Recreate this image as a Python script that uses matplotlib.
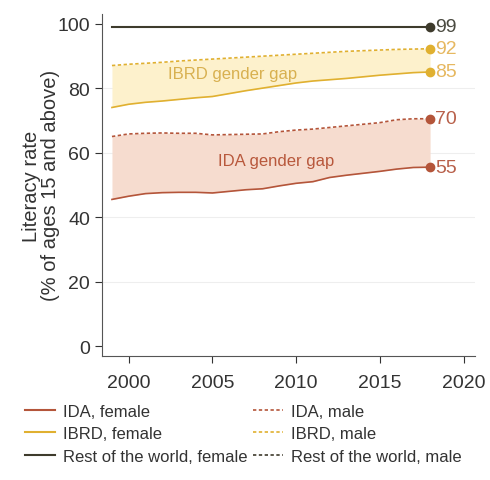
import numpy as np
import matplotlib.pyplot as plt
from matplotlib.lines import Line2D

plt.rcParams['font.family'] = ['Liberation Sans', 'DejaVu Sans']

# data ------------------------------------------------------------
years = [1999, 2000, 2001, 2002, 2003, 2004, 2005, 2006, 2007, 2008,
         2009, 2010, 2011, 2012, 2013, 2014, 2015, 2016, 2017, 2018]
ida_f = [45.5, 46.5, 47.3, 47.6, 47.7, 47.7, 47.5, 48.0, 48.5, 48.8,
         49.7, 50.5, 51.0, 52.3, 53.0, 53.6, 54.2, 54.9, 55.4, 55.5]
ida_m = [65.0, 65.8, 66.0, 66.1, 66.0, 66.0, 65.5, 65.6, 65.7, 65.8,
         66.5, 67.0, 67.3, 67.8, 68.3, 68.8, 69.3, 70.2, 70.5, 70.5]
ibrd_f = [74.0, 75.0, 75.6, 76.0, 76.5, 77.0, 77.4, 78.3, 79.2, 80.0,
          80.8, 81.6, 82.2, 82.6, 83.0, 83.5, 84.0, 84.4, 84.8, 85.0]
ibrd_m = [87.0, 87.4, 87.7, 88.0, 88.4, 88.7, 89.0, 89.3, 89.6, 89.9,
          90.2, 90.5, 90.8, 91.1, 91.4, 91.6, 91.8, 92.0, 92.1, 92.2]
row_f = [98.8] * 20
row_m = [99.0] * 20
end_labels = ['55', '70', '85', '92', '99']

c_ida = '#b4553a'
c_ibrd = '#e0b030'
c_row = '#3e3b2c'

fig = plt.figure(figsize=(4.9, 4.81), dpi=100)
ax = fig.add_axes([0.208, 0.258, 0.762, 0.711])

ax.fill_between(years, ida_f, ida_m, color='#f6dccf', lw=0)
ax.fill_between(years, ibrd_f, ibrd_m, color='#fdf1cc', lw=0)

ax.plot(years, ida_f, color=c_ida, lw=1.2)
ax.plot(years, ida_m, color=c_ida, lw=1.2, ls=(0, (2, 1.5)))
ax.plot(years, ibrd_f, color=c_ibrd, lw=1.2)
ax.plot(years, ibrd_m, color=c_ibrd, lw=1.2, ls=(0, (2, 1.5)))
ax.plot(years, row_f, color=c_row, lw=1.5)
ax.plot(years, row_m, color=c_row, lw=1.2, ls=(0, (2, 1.5)))

# end markers and labels
ends = [(ida_f[-1], c_ida, '#b8604a'), (ida_m[-1], c_ida, '#b8604a'),
        (ibrd_f[-1], c_ibrd, '#e6b860'), (ibrd_m[-1], c_ibrd, '#e6b860'),
        (row_m[-1], c_row, '#4a4a40')]
for (v, c, tc), lab in zip(ends, end_labels):
    ax.plot(years[-1], v, 'o', color=c, ms=6)
    ax.text(years[-1] + 0.3, v, lab, color=tc, fontsize=14, va='center', ha='left')

ax.text(2006.2, 84.5, 'IBRD gender gap', color='#d8b050', fontsize=12,
        ha='center', va='center')
ax.text(2008.8, 57.5, 'IDA gender gap', color='#b8583c', fontsize=12,
        ha='center', va='center')

ax.set_xlim(1998.4, 2020.7)
ax.set_ylim(-3, 103)
ax.set_xticks([2000, 2005, 2010, 2015, 2020])
ax.set_yticks([0, 20, 40, 60, 80, 100])
ax.tick_params(labelsize=14, colors='#333333', length=5)
ax.tick_params(axis='x', pad=8)
for y in [20, 40, 60, 80]:
    ax.axhline(y, color='#eeeeee', lw=0.8, zorder=0)
for s in ['top', 'right']:
    ax.spines[s].set_visible(False)
for s in ['left', 'bottom']:
    ax.spines[s].set_color('#555555')
ax.set_ylabel('Literacy rate\n(% of ages 15 and above)', fontsize=14.5,
              color='#333333', labelpad=-2, linespacing=1.0)

handles = [Line2D([], [], color=c_ida, lw=1.5),
           Line2D([], [], color=c_ibrd, lw=1.5),
           Line2D([], [], color=c_row, lw=1.5),
           Line2D([], [], color=c_ida, lw=1.2, ls=(0, (2, 1.5))),
           Line2D([], [], color=c_ibrd, lw=1.2, ls=(0, (2, 1.5))),
           Line2D([], [], color=c_row, lw=1.2, ls=(0, (2, 1.5)))]
labels = ['IDA, female', 'IBRD, female', 'Rest of the world, female',
          'IDA, male', 'IBRD, male', 'Rest of the world, male']
fig.legend(handles, labels, ncol=2, loc='upper left', bbox_to_anchor=(0.02, 0.19),
           frameon=False, fontsize=12, handlelength=1.8, columnspacing=0.3,
           handletextpad=0.5, labelspacing=0.45, labelcolor='#333333')

plt.savefig('out.png', dpi=100)
